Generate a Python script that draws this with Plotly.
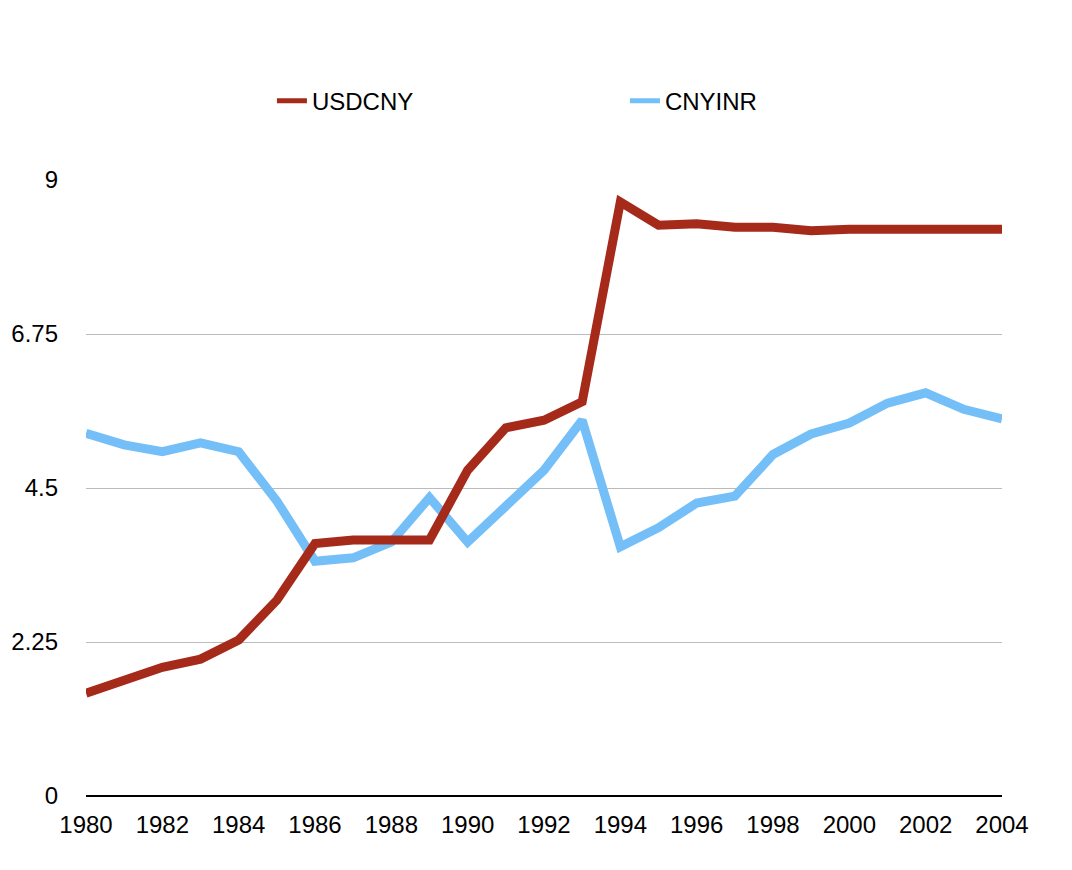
import plotly.graph_objects as go

years = list(range(1980, 2005))
usdcny = [1.50, 1.69, 1.88, 2.00, 2.28, 2.86, 3.69, 3.74, 3.75, 3.74,
          4.76, 5.38, 5.49, 5.76, 8.68, 8.34, 8.36, 8.31, 8.31, 8.26,
          8.28, 8.28, 8.30, 8.28, 8.28]
cnyinr = [5.30, 5.13, 5.03, 5.16, 5.03, 4.31, 3.43, 3.48, 3.71, 4.36,
          3.71, 4.22, 4.76, 5.49, 3.64, 3.92, 4.28, 4.38, 4.99, 5.29,
          5.45, 5.74, 5.89, 5.65, 5.51]
y_ticks = [0, 2.25, 4.5, 6.75, 9]
y_ticklabels = ["0", "2.25", "4.5", "6.75", "9"]
x_ticks = list(range(1980, 2005, 2))

RED = "#A52A1A"
BLUE = "#74BFF8"
FONT = "Liberation Sans, Arial, Helvetica, sans-serif"

fig = go.Figure()
fig.add_trace(go.Scatter(x=years, y=cnyinr, mode="lines", name="CNYINR",
                         line=dict(color=BLUE, width=9), showlegend=False,
                         cliponaxis=False))
fig.add_trace(go.Scatter(x=years, y=usdcny, mode="lines", name="USDCNY",
                         line=dict(color=RED, width=9), showlegend=False,
                         cliponaxis=False))
# legend entries
fig.add_trace(go.Scatter(x=[None], y=[None], mode="lines", name="USDCNY",
                         line=dict(color=RED, width=5)))
fig.add_trace(go.Scatter(x=[None], y=[None], mode="lines", name="CNYINR",
                         line=dict(color=BLUE, width=5)))

fig.update_layout(
    width=1072, height=870,
    margin=dict(l=78, r=78, t=172, b=82),
    paper_bgcolor="white", plot_bgcolor="white",
    font=dict(family=FONT, size=24, color="black"),
    legend=dict(orientation="h", x=0.203, y=1.128, xanchor="left", yanchor="middle",
                entrywidth=308, entrywidthmode="pixels",
                font=dict(size=24), traceorder="normal"),
    xaxis=dict(range=[1980, 2004], tickvals=x_ticks, showgrid=False,
               showline=False, zeroline=False, ticks="", ticklabelstandoff=12,
               automargin=False),
    yaxis=dict(range=[0, 9], tickvals=y_ticks, ticktext=y_ticklabels,
               showgrid=True, gridcolor="#BBBBBB", gridwidth=1,
               zeroline=True, zerolinecolor="black", zerolinewidth=2,
               showline=False, ticks="", ticklabelstandoff=27,
               automargin=False),
)

fig.write_html("out.html")
